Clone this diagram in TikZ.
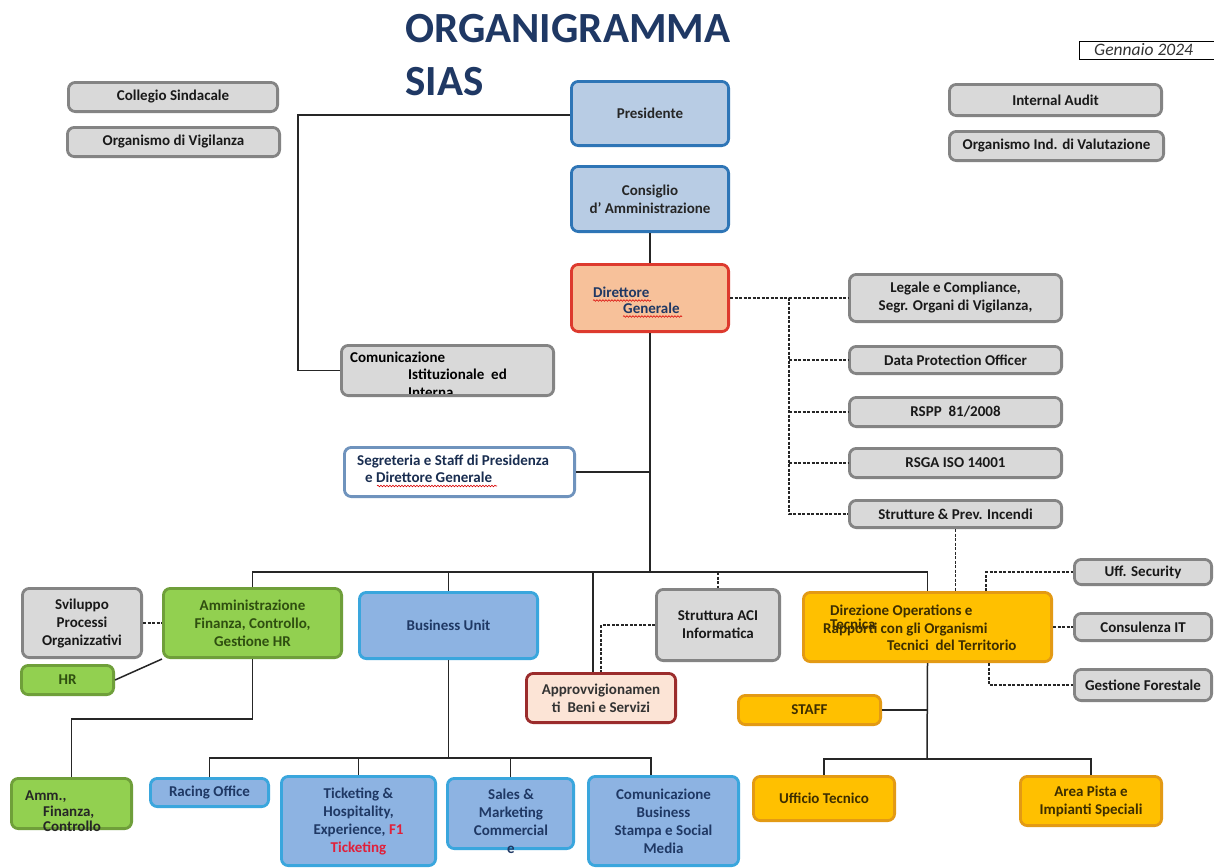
\documentclass[tikz,border=0pt]{standalone}
\usepackage{fontspec}
\setmainfont{Carlito}
\usetikzlibrary{decorations.pathmorphing}
\definecolor{gfill}{HTML}{D9D9D9}
\definecolor{gline}{HTML}{848484}
\definecolor{pfill}{HTML}{B8CCE4}
\definecolor{pline}{HTML}{2E75B6}
\definecolor{bfill}{HTML}{8DB3E2}
\definecolor{bline}{HTML}{3AA6DD}
\definecolor{grfill}{HTML}{92D050}
\definecolor{grline}{HTML}{6F9F3A}
\definecolor{afill}{HTML}{FFC000}
\definecolor{aline}{HTML}{E39A14}
\definecolor{dgfill}{HTML}{F7C19A}
\definecolor{dgline}{HTML}{DD3A2E}
\definecolor{apfill}{HTML}{FCE4D6}
\definecolor{apline}{HTML}{9B2C2C}
\definecolor{sgline}{HTML}{6F93BD}
\definecolor{navy}{HTML}{1F3864}
\definecolor{dkgreen}{HTML}{2F4F10}
\definecolor{dkbrown}{HTML}{3D2E00}
\definecolor{tred}{HTML}{E0203A}
\newcommand\orgbox[7]{\node[#2, minimum width={((#5)-(#3)-2.8)*1pt}, minimum height={((#6)-(#4)-2.8)*1pt}] (#1) at ({((#3)+(#5))/2},{((#4)+(#6))/2}) {#7};}
\tikzset{
 base/.style={rounded corners=7pt, line width=2.8pt, align=center, inner sep=0pt, font=\bfseries\fontsize{15}{18}\selectfont},
 graybox/.style={base, fill=gfill, draw=gline, text=black!90},
 presbox/.style={base, fill=pfill, draw=pline, text=black!85},
 bubox/.style={base, fill=bfill, draw=bline, text=navy},
 greenbox/.style={base, fill=grfill, draw=grline, text=dkgreen},
 amberbox/.style={base, fill=afill, draw=aline, text=dkbrown},
 dgbox/.style={base, fill=dgfill, draw=dgline},
 apbox/.style={base, fill=apfill, draw=apline, text=black!80},
 segbox/.style={base, fill=white, draw=sgline},
 conn/.style={line width=1.5pt, black!85},
 dconn/.style={conn, dash pattern=on 3pt off 1.5pt},
 txt/.style={anchor=base west, inner sep=0pt, font=\bfseries\fontsize{15}{18}\selectfont},
 wavy/.style={red!85!black, line width=0.6pt, decorate, decoration={snake, amplitude=0.8pt, segment length=3pt}},
}
\begin{document}
\begin{tikzpicture}[x=1pt,y=-1pt]
\fill[white] (0,0) rectangle (1214,867);
\useasboundingbox (0,0) rectangle (1214,867);

% title
\node[anchor=base west, inner sep=0pt, font=\bfseries\fontsize{43}{43}\selectfont, text=navy] (t1) at (405,42) {ORGANIGRAMMA};
\node[anchor=base west, inner sep=0pt, font=\bfseries\fontsize{43}{43}\selectfont, text=navy] (t2) at (405,95) {SIAS};

% date
\node[draw, line width=1.2pt, minimum width=140pt, minimum height=18pt, anchor=north west, inner sep=0pt] (gbox) at (1079,41) {};
\node[anchor=base west, inner sep=0pt, font=\itshape\fontsize{17.5}{17.5}\selectfont, text=black!80] (gtext) at (1094,56) {Gennaio 2024};

% top boxes
\orgbox{coll}{graybox}{67}{81}{279}{113}{Collegio Sindacale}
\orgbox{odv}{graybox}{66}{126}{281}{158}{Organismo di Vigilanza}
\orgbox{ia}{graybox}{948}{83}{1163}{117}{Internal Audit}
\orgbox{oiv}{graybox}{948}{130}{1165}{162}{Organismo Ind. di Valutazione}
\orgbox{pres}{presbox}{570}{80}{730}{147}{Presidente}
\orgbox{cda}{presbox}{570}{165}{730}{233}{Consiglio\\d’ Amministrazione}
\orgbox{dg}{dgbox}{570}{263}{730}{333}{}
\node[txt, text=navy] (dgt1) at (593,297) {Direttore};
\node[txt, text=navy] (dgt2) at (623,313) {Generale};
\draw[wavy] (593,300.5) -- (651,300.5);
\draw[wavy] (623,316.5) -- (682,316.5);

\orgbox{com}{graybox}{340}{344}{555}{397}{}
\node[txt] (comt1) at (350,362) {Comunicazione};
\node[txt] (comt2) at (408,379) {Istituzionale\ \ ed};
\begin{scope}
\clip (343,347) rectangle (552,393);
\node[txt] (comt3) at (408,397) {Interna};
\end{scope}

\orgbox{segr}{segbox}{343}{446}{576}{498}{}
\node[txt, text=navy!80!black] (segt1) at (357,465) {Segreteria e Staff di Presidenza};
\node[txt, text=navy!80!black] (segt2) at (365,482) {e Direttore Generale};
\draw[wavy] (377,486) -- (497,486);

% right staff column
\orgbox{leg}{graybox}{848}{273}{1063}{323}{Legale e Compliance,\\Segr. Organi di Vigilanza,}
\orgbox{dpo}{graybox}{848}{345}{1063}{375}{Data Protection Officer}
\orgbox{rspp}{graybox}{848}{396}{1063}{428}{RSPP\ \ 81/2008}
\orgbox{rsga}{graybox}{848}{447}{1063}{479}{RSGA ISO 14001}
\orgbox{strut}{graybox}{848}{499}{1063}{529}{Strutture \& Prev. Incendi}

% second level
\orgbox{svil}{graybox}{21}{587}{143}{659}{Sviluppo\\Processi\\Organizzativi}
\orgbox{amm}{greenbox}{162}{587}{343}{659}{Amministrazione\\Finanza, Controllo,\\Gestione HR}
\orgbox{hr}{greenbox}{20}{664}{115}{696}{HR}
\orgbox{bu}{bubox}{358}{591}{539}{660}{Business Unit}
\orgbox{aci}{graybox}{655}{588}{781}{662}{Struttura ACI\\Informatica}
\orgbox{appr}{apbox}{525}{672}{677}{724}{Approvvigionamen\\ti\ \ Beni e Servizi}
\orgbox{dops}{amberbox}{802}{591}{1053}{663}{}
\node[txt, text=dkbrown] (dopt1) at (830,615) {Direzione Operations e};
\node[txt, text=dkbrown] (dopt2) at (830,629) {Tecnica};
\node[txt, text=dkbrown] (dopt3) at (823,633) {Rapporti con gli Organismi};
\node[txt, text=dkbrown] (dopt4) at (887,650) {Tecnici\ \ del Territorio};
\orgbox{sec}{graybox}{1073}{558}{1213}{586}{Uff. Security}
\orgbox{cit}{graybox}{1073}{612}{1213}{642}{Consulenza IT}
\orgbox{gfor}{graybox}{1073}{668}{1213}{702}{Gestione Forestale}
\orgbox{staff}{amberbox}{737}{694}{882}{726}{STAFF}

% bottom level
\orgbox{amm2}{greenbox}{10}{777}{133}{830}{}
\node[txt, text=black!85] (am2t1) at (25,800) {Amm.,};
\node[txt, text=black!85] (am2t2) at (43,816) {Finanza,};
\node[txt, text=black!85] (am2t3) at (43,831) {Controllo};
\orgbox{race}{bubox}{149}{777}{270}{808}{Racing Office}
\orgbox{tick}{bubox}{280}{775}{437}{867}{Ticketing \&\\Hospitality,\\Experience, \textcolor{tred}{F1}\\\textcolor{tred}{Ticketing}}
\orgbox{sales}{bubox}{446}{777}{575}{850}{}
\node[anchor=north, inner sep=0pt, align=center, text=navy, font=\bfseries\fontsize{15}{18}\selectfont] (salest) at (511,789) {Sales \&\\Marketing\\Commercial\\e};
\orgbox{cb}{bubox}{587}{775}{740}{867}{Comunicazione\\Business\\Stampa e Social\\Media}
\orgbox{ut}{amberbox}{752}{775}{896}{822}{Ufficio Tecnico}
\orgbox{ap}{amberbox}{1019}{775}{1163}{827}{Area Pista e\\Impianti Speciali}

% connectors
\coordinate (j1) at (298,115);
\draw[conn] (pres.west |- j1) -- (j1) |- (com.west);
\draw[conn] (cda.south) -- (dg.north);
\coordinate (bus1) at (251,572);
\draw[conn] (dg.south) -- (dg.south |- bus1);
\draw[conn] (segr.east) -- (segr.east -| dg.south);
\draw[conn] (amm.north) -- (amm.north |- bus1) -- (bus1 -| dops.north) -- (dops.north);
\draw[conn] (bu.north) -- (bu.north |- bus1);
\coordinate (apj) at (593,572);
\draw[conn] (apj) -- (apj |- appr.north);
\draw[dconn] (aci.north |- bus1) -- (aci.north);

\coordinate (dv) at (789,300);
\draw[dconn] (dg.east) -- (dg.east -| dv) -- (dv |- strut.west) -- (strut.west);
\foreach \n in {leg,dpo,rspp,rsga} {\draw[dconn] (dv |- \n.west) -- (\n.west);}
\draw[dconn] (strut.south) -- (strut.south |- dops.north);

\draw[dconn] (svil.east) -- (amm.west);
\draw[conn] (hr.east) -- (amm.south west);
\coordinate (aj) at (251,719);
\draw[conn] (amm.south) -- (amm.south |- aj) -| (amm2.north);

\coordinate (bl) at (449,758);
\coordinate (cbj) at (651,758);
\draw[conn] (bu.south) -- (bu.south |- bl);
\draw[conn] (race.north) |- (cbj) -- (cbj |- cb.north);
\draw[conn] (tick.north) -- (tick.north |- bl);
\draw[conn] (sales.north) -- (sales.north |- bl);

\coordinate (aj2) at (601,625);
\draw[dconn] (aci.west) -- (aci.west -| aj2) -- (aj2 |- appr.north);

\coordinate (sj) at (986,572);
\draw[dconn] (sj |- dops.north) -- (sj) -- (sec.west);
\draw[dconn] (dops.east) -- (cit.west);
\coordinate (gj) at (989,685);
\draw[dconn] (gj |- dops.south) -- (gj) -- (gfor.west);

\coordinate (ob) at (927,759);
\draw[conn] (dops.south) -- (ob);
\draw[conn] (staff.east) -- (staff.east -| ob);
\draw[conn] (ut.north) -- (ut.north |- ob) -| (ap.north);
\end{tikzpicture}
\end{document}
